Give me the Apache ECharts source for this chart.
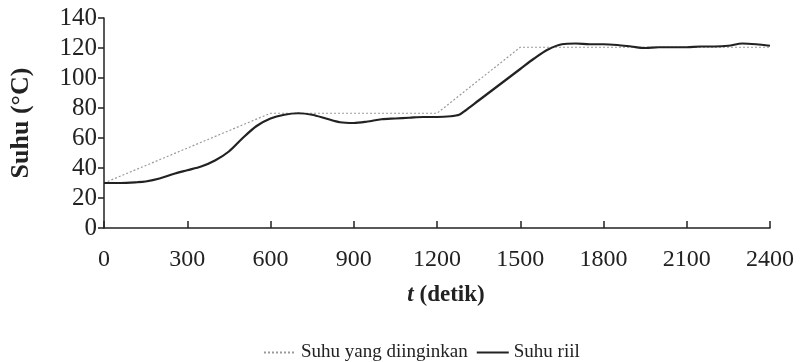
<!DOCTYPE html>
<html>
<head>
<meta charset="utf-8">
<script src="https://cdn.jsdelivr.net/npm/echarts@6/dist/echarts.min.js"></script>
<style>html,body{margin:0;padding:0;background:#fff}#c{width:806px;height:362px}</style>
</head>
<body>
<div id="c"></div>
<script>
const xTicks = [0, 300, 600, 900, 1200, 1500, 1800, 2100, 2400];
const yTicks = [0, 20, 40, 60, 80, 100, 120, 140];
const seriesNames = ['Suhu yang diinginkan', 'Suhu riil'];
// desired temperature (setpoint) : [t, value]
const desiredT = [0, 600, 1200, 1500, 2400];
const desiredV = [30, 76.5, 76.5, 120.5, 120.5];
// real temperature : [t, value]
const realT = [0, 60, 120, 150, 200, 250, 300, 350, 400, 450, 500, 550, 600, 650, 700, 750, 800, 850, 900, 950, 1000, 1050, 1100, 1150, 1200, 1250, 1280, 1300, 1350, 1400, 1450, 1500, 1550, 1600, 1650, 1700, 1750, 1800, 1850, 1900, 1950, 2000, 2050, 2100, 2150, 2200, 2250, 2300, 2350, 2400];
const realV = [30, 30, 30.5, 31, 33, 36, 38.5, 41, 45, 51, 60, 68, 73, 75.5, 76.5, 75.5, 73, 70.5, 70, 71, 72.5, 73, 73.5, 74, 74, 74.5, 75.5, 78, 85, 92, 99, 106, 113, 119, 122.5, 123, 122.5, 122.5, 122, 121, 120, 120.5, 120.5, 120.5, 121, 121, 121.5, 123, 122.5, 121.5];

const font = "'Liberation Serif', 'Times New Roman', serif";
const chart = echarts.init(document.getElementById('c'), null, {renderer: 'canvas'});
chart.setOption({
  backgroundColor: '#fff',
  animation: false,
  grid: {left: 104, right: 36, top: 18, bottom: 134},
  legend: {
    left: 258, top: 338,
    itemWidth: 32, itemHeight: 10, itemGap: 8,
    itemStyle: {opacity: 0},
    textStyle: {fontFamily: font, fontSize: 19, color: '#222'},
    data: seriesNames
  },
  xAxis: {
    type: 'value', min: xTicks[0], max: xTicks[xTicks.length - 1], interval: 300,
    name: '{i|t} (detik)', nameLocation: 'middle', nameGap: 56,
    nameTextStyle: {fontFamily: font, fontSize: 23, fontWeight: 'bold', color: '#222', padding: [0, 0, 0, 18],
      rich: {i: {fontFamily: font, fontSize: 23, fontWeight: 'bold', fontStyle: 'italic', color: '#222'}}},
    axisLine: {lineStyle: {color: '#222', width: 1.5}},
    axisTick: {inside: true, length: 7, lineStyle: {color: '#222', width: 1.5}},
    axisLabel: {fontFamily: font, fontSize: 24, color: '#222', margin: 20, formatter: v => String(v)},
    splitLine: {show: false}
  },
  yAxis: {
    type: 'value', min: yTicks[0], max: yTicks[yTicks.length - 1], interval: 20,
    name: 'Suhu (°C)', nameLocation: 'middle', nameGap: 70,
    nameTextStyle: {fontFamily: font, fontSize: 26, fontWeight: 'bold', color: '#222'},
    axisLine: {show: true, lineStyle: {color: '#222', width: 1.5}},
    axisTick: {show: true, inside: false, length: 6, lineStyle: {color: '#222', width: 1.5}},
    axisLabel: {fontFamily: font, fontSize: 25, color: '#222', margin: 7, formatter: v => String(v)},
    splitLine: {show: false}
  },
  series: [
    {
      name: seriesNames[0], type: 'line', symbol: 'none', z: 1,
      data: desiredT.map((t, i) => [t, desiredV[i]]),
      lineStyle: {color: '#9a9a9a', width: 1.2, type: [2, 2]},
      itemStyle: {color: '#9a9a9a'}
    },
    {
      name: seriesNames[1], type: 'line', symbol: 'none', smooth: 0.3, z: 2,
      data: realT.map((t, i) => [t, realV[i]]),
      lineStyle: {color: '#222', width: 2.2},
      itemStyle: {color: '#222'}
    }
  ]
});
</script>
</body>
</html>
